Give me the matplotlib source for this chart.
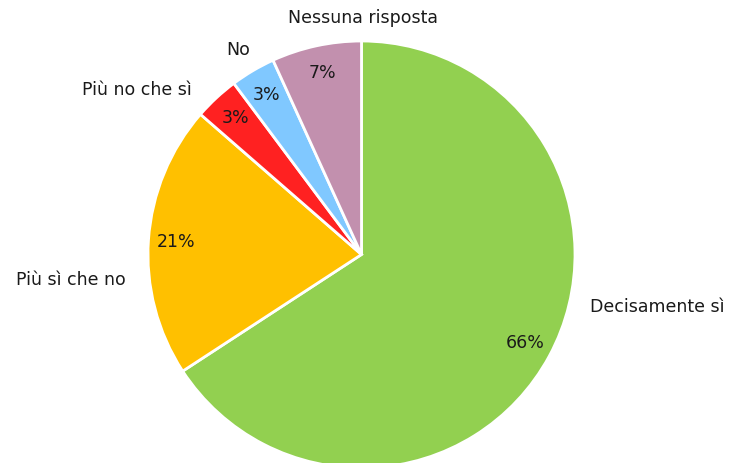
import matplotlib
matplotlib.use("Agg")
import matplotlib.pyplot as plt

# Risposte (percentuali)
categories = ["Decisamente sì", "Più sì che no", "Più no che sì", "No", "Nessuna risposta"]
values = [65.8, 20.6, 3.4, 3.4, 6.8]
colors = ["#92D050", "#FFC000", "#FF2121", "#80C8FF", "#C290AE"]

# posizione delle etichette esterne (in unità di raggio)
label_pos = [(1.07, -0.246, "left"), (-1.103, -0.119, "right"), (-0.794, 0.770, "right"),
             (-0.578, 0.958, "center"), (0.009, 1.108, "center")]

plt.rcParams["font.family"] = ["DejaVu Sans"]

fig = plt.figure(figsize=(7.31, 4.63), dpi=100)
ax = fig.add_axes([0, 0, 1, 1])

wedges, texts = ax.pie(values, colors=colors, startangle=90, counterclock=False,
                       radius=1, wedgeprops=dict(edgecolor="white", linewidth=2),
                       autopct="%.0f%%", pctdistance=0.87,
                       textprops=dict(fontsize=12.5, color="#1a1a1a"))[:2]

for (x, y, ha), name in zip(label_pos, categories):
    ax.text(x, y, name, ha=ha, va="center", fontsize=12.5, color="#1a1a1a")

s = 213.5
ax.set_xlim(-361.5 / s, (731 - 361.5) / s)
ax.set_ylim(-(463 - 254.5) / s, 254.5 / s)
ax.set_aspect("auto")
ax.axis("off")

fig.savefig("out.png", dpi=100)
